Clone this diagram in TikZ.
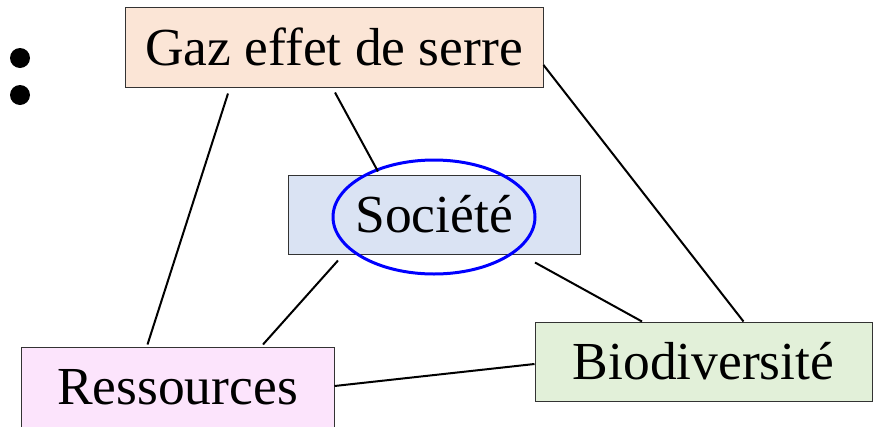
\documentclass[tikz,border=0pt]{standalone}
\usepackage{fontspec}
\setmainfont{Liberation Serif}
\definecolor{gazfill}{HTML}{FBE5D6}
\definecolor{socfill}{HTML}{DAE3F3}
\definecolor{resfill}{HTML}{FCE4FC}
\definecolor{biofill}{HTML}{E2F0D9}
\begin{document}
\begin{tikzpicture}[x=1pt,y=-1pt,
	box/.style={draw=black!80,line width=1pt,inner sep=0pt,font=\fontsize{53.5}{60}\selectfont},
	link/.style={line width=2pt}]
	\useasboundingbox (0,0) rectangle (876,426);
	% bullets
	\fill (20,58) circle (10);
	\fill (20,95) circle (10);
	% boxes
	\node[box,fill=gazfill,minimum width=418pt,minimum height=80pt] (gaz) at (334,47) {Gaz effet de serre};
	\node[box,fill=socfill,minimum width=292pt,minimum height=79pt] (soc) at (434,214.5) {Société};
	\node[box,fill=resfill,minimum width=313pt,minimum height=80pt] (res) at (177.5,387) {Ressources};
	\node[box,fill=biofill,minimum width=337pt,minimum height=79pt] (bio) at (703.5,361.5) {Biodiversité};
	\draw[blue,line width=3pt] (434,217) ellipse (101 and 57);
	% links
	\draw[link] ([xshift=-106pt,yshift=-6pt]gaz.south) -- ([xshift=-30pt,yshift=2pt]res.north);
	\draw[link] ([xshift=1pt,yshift=-5pt]gaz.south) -- ([xshift=-56pt,yshift=3pt]soc.north);
	\draw[link] ([yshift=-18pt]gaz.east) -- ([xshift=40pt]bio.north);
	\draw[link] ([xshift=-96pt,yshift=-6pt]soc.south) -- ([xshift=85.5pt,yshift=2pt]res.north);
	\draw[link] ([xshift=101pt,yshift=-8pt]soc.south) -- ([xshift=-61.5pt]bio.north);
	\draw[link] ([yshift=1pt]res.east) -- ([yshift=-2.5pt]bio.west);
\end{tikzpicture}
\end{document}
